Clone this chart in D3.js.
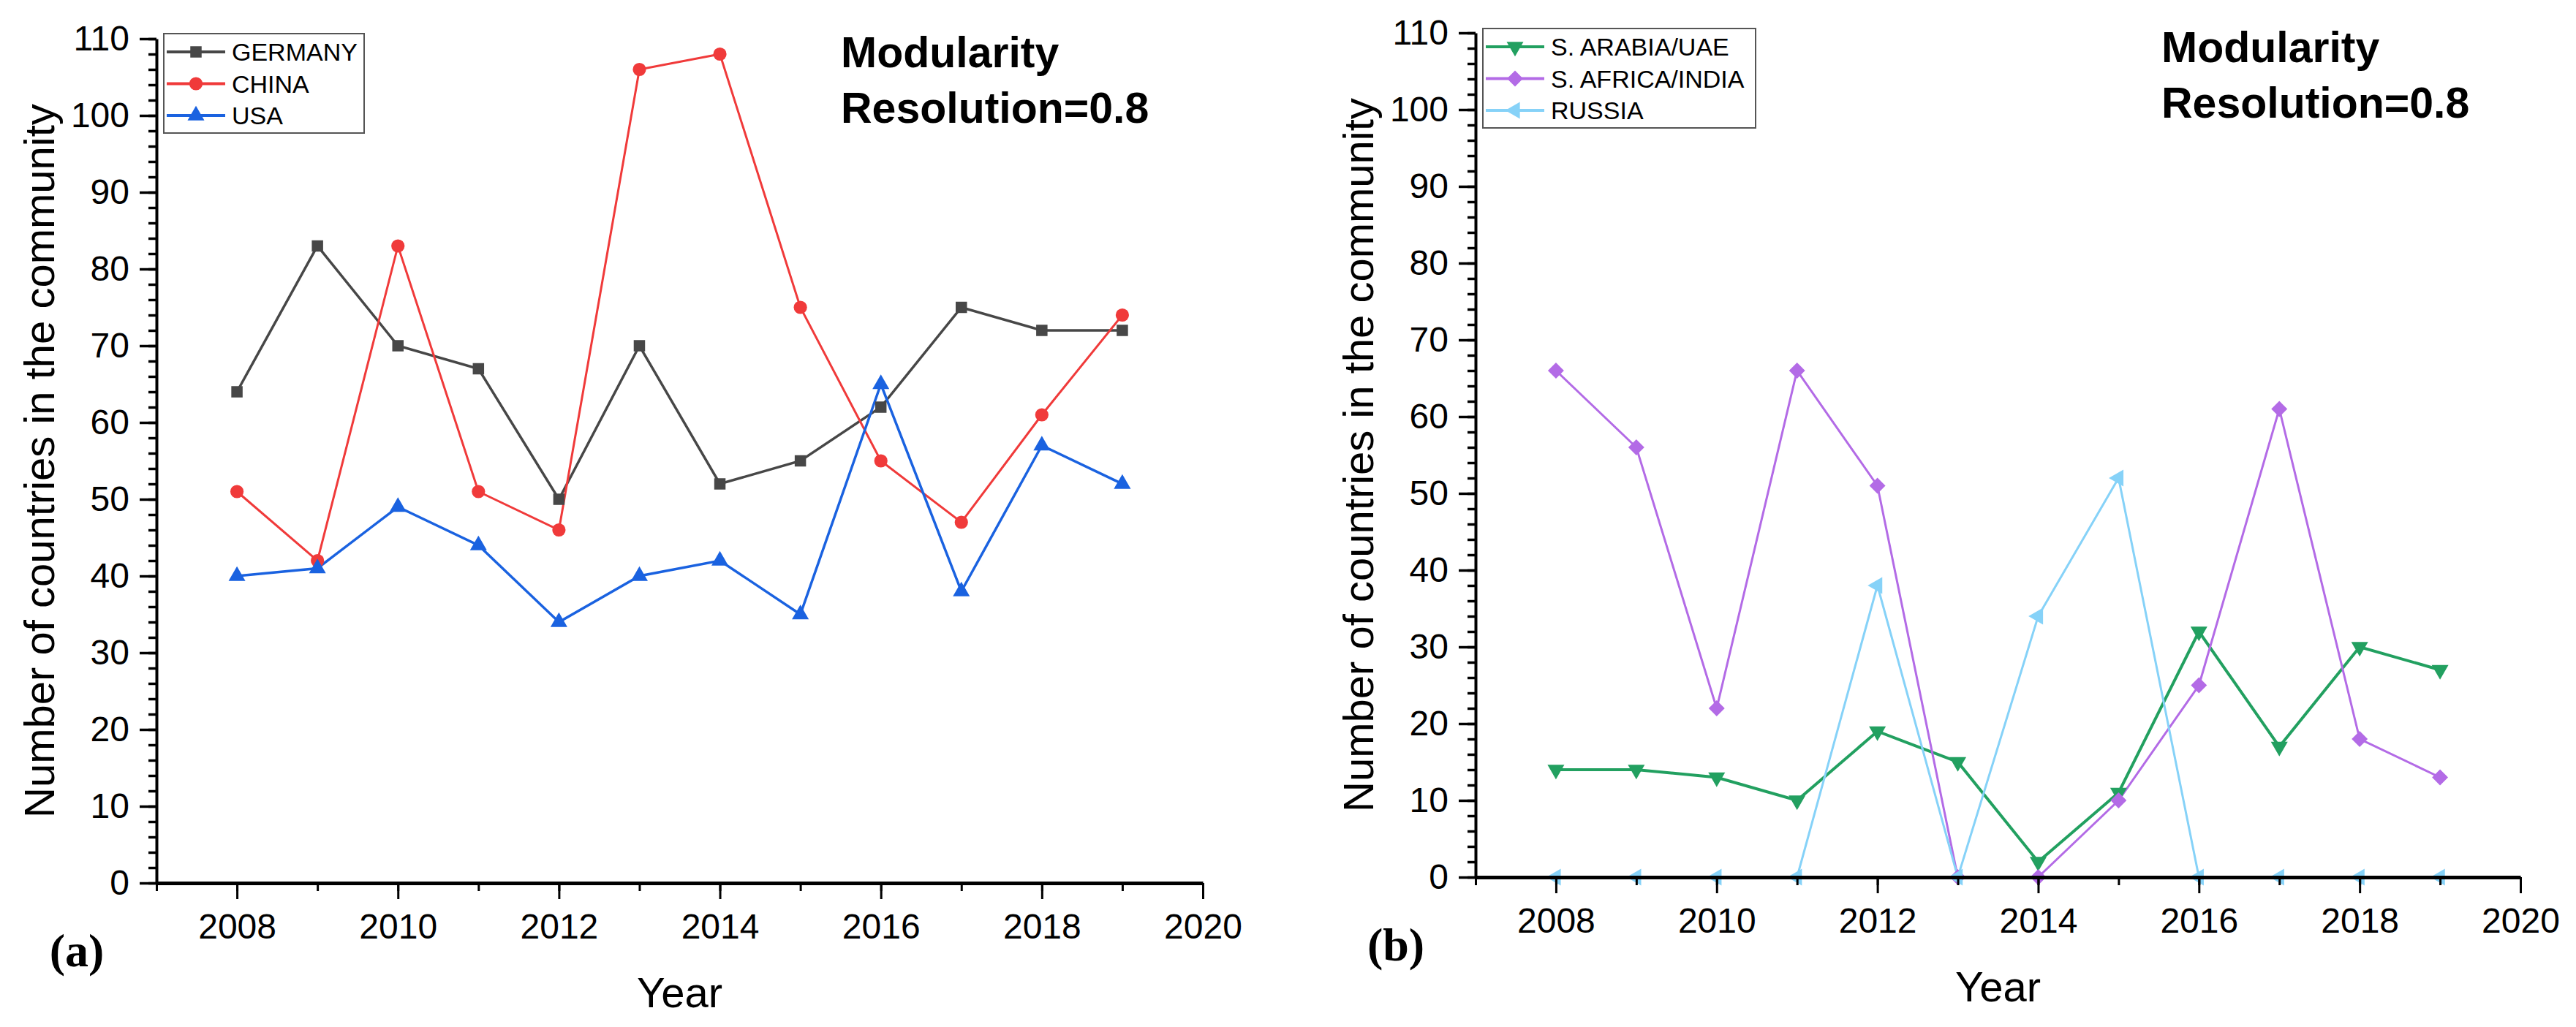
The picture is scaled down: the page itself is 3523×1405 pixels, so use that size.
<!DOCTYPE html>
<html>
<head>
<meta charset="utf-8">
<script src="https://cdn.jsdelivr.net/npm/d3@7.9.0/dist/d3.min.js"></script>
<style>
  html, body { margin: 0; padding: 0; background: #fff; }
  svg text { font-family: "Liberation Sans", Arial, sans-serif; }
</style>
</head>
<body>
<svg id="chart" width="3523" height="1405"></svg>
<script>
// data
const years = [2008, 2009, 2010, 2011, 2012, 2013, 2014, 2015, 2016, 2017, 2018, 2019];

const germany = [64, 83, 70, 67, 50, 70, 52, 55, 62, 75, 72, 72];
const china   = [51, 42, 83, 51, 46, 106, 108, 75, 55, 47, 61, 74];
const usa     = [40, 41, 49, 44, 34, 40, 42, 35, 65, 38, 57, 52];

const saudiUae    = [14, 14, 13, 10, 19, 15, 2, 11, 32, 17, 30, 27];
const safricaInd  = [66, 56, 22, 66, 51, 0, 0, 10, 25, 61, 18, 13];
const russia      = [0, 0, 0, 0, 38, 0, 34, 52, 0, 0, 0, 0];

const yTicks = [0, 10, 20, 30, 40, 50, 60, 70, 80, 90, 100, 110];
const xTicks = [2008, 2010, 2012, 2014, 2016, 2018, 2020];

const svg = d3.select('#chart');

function marker(kind) {
  // symbol path + rotation
  if (kind === 'square') return { d: d3.symbol(d3.symbolSquare, 240)(), rot: 0 };
  if (kind === 'circle') return { d: d3.symbol(d3.symbolCircle, 260)(), rot: 0 };
  if (kind === 'up') return { d: d3.symbol(d3.symbolTriangle, 230)(), rot: 0 };
  if (kind === 'down') return { d: d3.symbol(d3.symbolTriangle, 230)(), rot: 180 };
  if (kind === 'diamond') return { d: d3.symbol(d3.symbolSquare, 240)(), rot: 45 };
  if (kind === 'left') return { d: d3.symbol(d3.symbolTriangle, 230)(), rot: -90 };
}

function drawPanel(cfg) {
  const g = svg.append('g');
  const x = d3.scaleLinear().domain([2007, 2020]).range([cfg.x0, cfg.x1]);
  const y = d3.scaleLinear().domain([0, 110]).range([cfg.y0, cfg.y1]);

  // series first, axes go on top of them
  const line = d3.line().x((d, i) => x(years[i])).y(d => y(d));
  cfg.series.forEach(s => {
    g.append('path')
      .attr('d', line(s.values))
      .attr('fill', 'none').attr('stroke', s.color).attr('stroke-width', s.width)
      .attr('stroke-linejoin', 'miter');
  });
  cfg.series.forEach(s => {
    const m = marker(s.marker);
    g.append('g').selectAll('path')
      .data(s.values)
      .join('path')
      .attr('d', m.d)
      .attr('transform', (d, i) => `translate(${x(years[i])},${y(d)}) rotate(${m.rot})`)
      .attr('fill', s.color);
  });

  // y axis: minor then major
  g.append('g')
    .attr('transform', `translate(${cfg.x0},0)`)
    .call(d3.axisLeft(y).tickValues(d3.range(0, 111, 2)).tickSize(11).tickSizeOuter(0).tickFormat(''))
    .call(a => a.select('.domain').remove())
    .call(a => a.selectAll('line').attr('stroke-width', 3.5));
  const ya = g.append('g')
    .attr('transform', `translate(${cfg.x0},0)`)
    .call(d3.axisLeft(y).tickValues(yTicks).tickSize(23).tickSizeOuter(0).tickPadding(14));
  ya.select('.domain').attr('stroke-width', 4);
  ya.selectAll('line').attr('stroke-width', 3.5);
  ya.selectAll('text').attr('font-size', 48).attr('font-family', 'Liberation Sans').attr('fill', '#000');

  // x axis
  g.append('g')
    .attr('transform', `translate(0,${cfg.y0})`)
    .call(d3.axisBottom(x).tickValues(d3.range(2007, 2021)).tickSize(11).tickSizeOuter(0).tickFormat(''))
    .call(a => a.select('.domain').remove())
    .call(a => a.selectAll('line').attr('stroke-width', 3));
  const xa = g.append('g')
    .attr('transform', `translate(0,${cfg.y0})`)
    .call(d3.axisBottom(x).tickValues(xTicks).tickSize(22).tickSizeOuter(0).tickPadding(20).tickFormat(d3.format('d')));
  xa.select('.domain').attr('stroke-width', 5);
  xa.selectAll('line').attr('stroke-width', 3);
  xa.selectAll('text').attr('font-size', 48).attr('font-family', 'Liberation Sans').attr('fill', '#000');

  // axis titles
  g.append('text')
    .attr('x', (cfg.x0 + cfg.x1) / 2).attr('y', cfg.y0 + 170)
    .attr('text-anchor', 'middle').attr('font-size', 58)
    .text('Year');
  g.append('text')
    .attr('transform', `translate(${cfg.x0 - 140},${(cfg.y0 + cfg.y1) / 2}) rotate(-90)`)
    .attr('text-anchor', 'middle').attr('font-size', 58)
    .text('Number of countries in the community');
  g.append('text')
    .attr('x', cfg.x0 - 109).attr('y', cfg.y0 + 114)
    .attr('text-anchor', 'middle').attr('font-size', 64).attr('font-weight', 'bold')
    .style('font-family', '"Liberation Serif", serif')
    .text(cfg.tag);

  // annotation
  g.append('text')
    .attr('x', cfg.noteX).attr('y', cfg.noteY)
    .attr('font-size', 59).attr('font-weight', 'bold')
    .text('Modularity');
  g.append('text')
    .attr('x', cfg.noteX).attr('y', cfg.noteY + 76)
    .attr('font-size', 59).attr('font-weight', 'bold')
    .text('Resolution=0.8');

  // legend
  const lg = g.append('g').attr('transform', `translate(${cfg.legX},${cfg.legY})`);
  lg.append('rect')
    .attr('width', cfg.legW).attr('height', 136)
    .attr('fill', '#fff').attr('stroke', '#555').attr('stroke-width', 2);
  cfg.series.forEach((s, i) => {
    const cy = 25 + i * 43.5;
    lg.append('line').attr('x1', 4).attr('x2', 84).attr('y1', cy).attr('y2', cy)
      .attr('stroke', s.color).attr('stroke-width', 4);
    const m = marker(s.marker);
    lg.append('path').attr('d', m.d)
      .attr('transform', `translate(44,${cy}) rotate(${m.rot})`)
      .attr('fill', s.color);
    lg.append('text').attr('x', 93).attr('y', cy + 12)
      .attr('font-size', 34).text(s.name);
  });
}

drawPanel({
  x0: 214, x1: 1645, y0: 1208, y1: 53, tag: '(a)',
  noteX: 1150, noteY: 92,
  legX: 224, legY: 46, legW: 274,
  series: [
    { name: 'GERMANY', values: germany, color: '#474747', marker: 'square', width: 3.5 },
    { name: 'CHINA', values: china, color: '#F03A3A', marker: 'circle', width: 3 },
    { name: 'USA', values: usa, color: '#1A62E0', marker: 'up', width: 3.5 }
  ]
});

drawPanel({
  x0: 2018, x1: 3447, y0: 1200, y1: 45, tag: '(b)',
  noteX: 2956, noteY: 85,
  legX: 2028, legY: 39, legW: 373,
  series: [
    { name: 'S. ARABIA/UAE', values: saudiUae, color: '#22A060', marker: 'down', width: 4 },
    { name: 'S. AFRICA/INDIA', values: safricaInd, color: '#B36BE6', marker: 'diamond', width: 3 },
    { name: 'RUSSIA', values: russia, color: '#86D2F8', marker: 'left', width: 3 }
  ]
});
</script>
</body>
</html>
